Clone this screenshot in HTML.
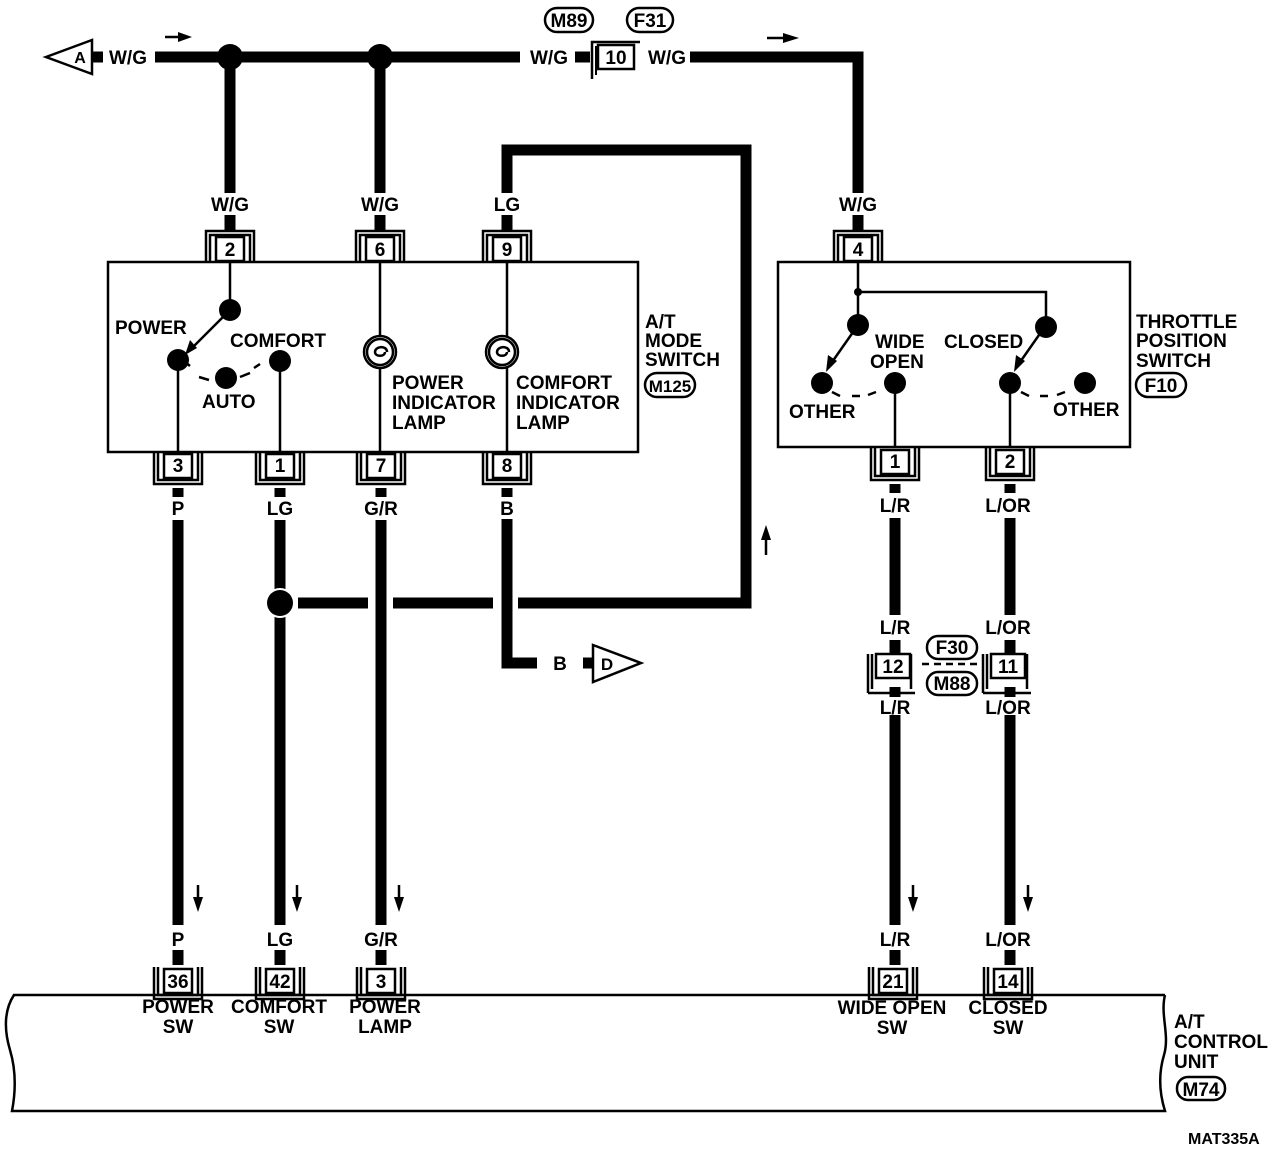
<!DOCTYPE html>
<html><head><meta charset="utf-8"><style>
html,body{margin:0;padding:0;background:#fff;}
svg{display:block;}
text{font-family:"Liberation Sans",sans-serif;font-weight:bold;font-size:19px;fill:#000;}
</style></head><body>
<svg width="1280" height="1150" viewBox="0 0 1280 1150" xmlns="http://www.w3.org/2000/svg">
<defs>
<g id="ct">
<path d="M-24,26 V-6 H24 V26 M-20,26 V-2 H20 V26" fill="none" stroke="#000" stroke-width="2.5"/>
<rect x="-14" y="0" width="28" height="24" fill="#fff" stroke="#000" stroke-width="2.5"/>
</g>
<g id="cb">
<path d="M-24,-26 V6 H24 V-26 M-20,-26 V2 H20 V-26" fill="none" stroke="#000" stroke-width="2.5"/>
<rect x="-14" y="-24" width="28" height="24" fill="#fff" stroke="#000" stroke-width="2.5"/>
</g>
</defs>

<g stroke="#000" stroke-width="11" fill="none">
<line x1="92" y1="57" x2="103" y2="57"/>
<line x1="155" y1="57" x2="520" y2="57"/>
<line x1="575" y1="57" x2="590" y2="57"/>
<polyline points="690,57 858,57 858,222"/>
<line x1="230" y1="57" x2="230" y2="222"/>
<line x1="380" y1="57" x2="380" y2="222"/>
<polyline points="507,222 507,150 746,150 746,603 518,603"/>
<line x1="298" y1="603" x2="368" y2="603"/>
<line x1="393" y1="603" x2="493" y2="603"/>
<polyline points="507,488 507,663 537,663"/>
<line x1="583" y1="663" x2="593" y2="663"/>
<line x1="178" y1="520" x2="178" y2="925"/>
<line x1="280" y1="520" x2="280" y2="925"/>
<line x1="381" y1="520" x2="381" y2="925"/>
<line x1="895" y1="518" x2="895" y2="615"/>
<line x1="895" y1="715" x2="895" y2="925"/>
<line x1="1010" y1="518" x2="1010" y2="615"/>
<line x1="1010" y1="715" x2="1010" y2="925"/>
<line x1="178" y1="950" x2="178" y2="965"/>
<line x1="280" y1="950" x2="280" y2="965"/>
<line x1="381" y1="950" x2="381" y2="965"/>
<line x1="895" y1="950" x2="895" y2="965"/>
<line x1="1010" y1="950" x2="1010" y2="965"/>
<line x1="895" y1="640" x2="895" y2="655"/>
<line x1="895" y1="687" x2="895" y2="697"/>
<line x1="1010" y1="640" x2="1010" y2="655"/>
<line x1="1010" y1="687" x2="1010" y2="697"/>
<line x1="178" y1="488" x2="178" y2="497"/>
<line x1="280" y1="488" x2="280" y2="497"/>
<line x1="381" y1="488" x2="381" y2="497"/>
<line x1="507" y1="488" x2="507" y2="497"/>
<line x1="895" y1="484" x2="895" y2="493"/>
<line x1="1010" y1="484" x2="1010" y2="493"/>
<line x1="230" y1="215" x2="230" y2="232"/>
<line x1="380" y1="215" x2="380" y2="232"/>
<line x1="507" y1="215" x2="507" y2="232"/>
<line x1="858" y1="215" x2="858" y2="232"/>
</g>
<g fill="#fff">
<rect x="160" y="193" width="440" height="22"/>
<rect x="830" y="193" width="60" height="22"/>
<rect x="150" y="497" width="380" height="22"/>
<rect x="860" y="493" width="180" height="24"/>
<rect x="860" y="615" width="180" height="24"/>
<rect x="860" y="697" width="180" height="17"/>
<rect x="150" y="926" width="260" height="24"/>
<rect x="860" y="926" width="180" height="24"/>
</g>
<text x="230" y="211" text-anchor="middle">W/G</text>
<text x="380" y="211" text-anchor="middle">W/G</text>
<text x="507" y="211" text-anchor="middle">LG</text>
<text x="858" y="211" text-anchor="middle">W/G</text>
<text x="178" y="515" text-anchor="middle">P</text>
<text x="280" y="515" text-anchor="middle">LG</text>
<text x="381" y="515" text-anchor="middle">G/R</text>
<text x="507" y="515" text-anchor="middle">B</text>
<text x="895" y="512" text-anchor="middle">L/R</text>
<text x="1008" y="512" text-anchor="middle">L/OR</text>
<text x="895" y="634" text-anchor="middle">L/R</text>
<text x="1008" y="634" text-anchor="middle">L/OR</text>
<text x="895" y="714" text-anchor="middle">L/R</text>
<text x="1008" y="714" text-anchor="middle">L/OR</text>
<text x="178" y="946" text-anchor="middle">P</text>
<text x="280" y="946" text-anchor="middle">LG</text>
<text x="381" y="946" text-anchor="middle">G/R</text>
<text x="895" y="946" text-anchor="middle">L/R</text>
<text x="1008" y="946" text-anchor="middle">L/OR</text>
<text x="128" y="64" text-anchor="middle">W/G</text>
<text x="549" y="64" text-anchor="middle">W/G</text>
<text x="667" y="64" text-anchor="middle">W/G</text>
<text x="560" y="670" text-anchor="middle">B</text>

<circle cx="230" cy="57" r="13" fill="#000"/>
<circle cx="380" cy="57" r="13" fill="#000"/>
<circle cx="280" cy="603" r="15" fill="#fff"/>
<circle cx="280" cy="603" r="13" fill="#000"/>

<polygon points="46,57 92,40 92,74" fill="#fff" stroke="#000" stroke-width="2.5"/>
<text x="80" y="63" text-anchor="middle" style="font-size:16px">A</text>
<polygon points="641,663 593,645 593,682" fill="#fff" stroke="#000" stroke-width="2.5"/>
<text x="607" y="670" text-anchor="middle" style="font-size:17px">D</text>

<path d="M592,79 V42 H640" fill="none" stroke="#000" stroke-width="2.5"/>
<path d="M596,75 V46" fill="none" stroke="#000" stroke-width="2"/>
<rect x="598" y="45" width="36" height="24" fill="#fff" stroke="#000" stroke-width="2.5"/>
<text x="616" y="64" text-anchor="middle">10</text>
<rect x="545" y="8" width="48" height="24" rx="12" fill="#fff" stroke="#000" stroke-width="2.5"/>
<text x="569" y="27" text-anchor="middle">M89</text>
<rect x="627" y="8" width="46" height="24" rx="12" fill="#fff" stroke="#000" stroke-width="2.5"/>
<text x="650" y="27" text-anchor="middle">F31</text>

<g fill="#000" stroke="#000" stroke-width="2.5">
<line x1="165" y1="37" x2="180" y2="37"/><polygon points="178,32 192,37 178,42" stroke="none"/>
<line x1="767" y1="38" x2="785" y2="38"/><polygon points="783,33 799,38 783,43" stroke="none"/>
<line x1="766" y1="555" x2="766" y2="538"/><polygon points="761,540 766,525 771,540" stroke="none"/>
<line x1="198" y1="885" x2="198" y2="900"/><polygon points="193,897 198,912 203,897" stroke="none"/>
<line x1="297" y1="885" x2="297" y2="900"/><polygon points="292,897 297,912 302,897" stroke="none"/>
<line x1="399" y1="885" x2="399" y2="900"/><polygon points="394,897 399,912 404,897" stroke="none"/>
<line x1="913" y1="885" x2="913" y2="900"/><polygon points="908,897 913,912 918,897" stroke="none"/>
<line x1="1028" y1="885" x2="1028" y2="900"/><polygon points="1023,897 1028,912 1033,897" stroke="none"/>
</g>

<rect x="108" y="262" width="530" height="190" fill="#fff" stroke="#000" stroke-width="2.5"/>
<use href="#ct" x="230" y="237"/><text x="230" y="256" text-anchor="middle">2</text>
<use href="#ct" x="380" y="237"/><text x="380" y="256" text-anchor="middle">6</text>
<use href="#ct" x="507" y="237"/><text x="507" y="256" text-anchor="middle">9</text>
<use href="#cb" x="178" y="478"/><text x="178" y="472" text-anchor="middle">3</text>
<use href="#cb" x="280" y="478"/><text x="280" y="472" text-anchor="middle">1</text>
<use href="#cb" x="381" y="478"/><text x="381" y="472" text-anchor="middle">7</text>
<use href="#cb" x="507" y="478"/><text x="507" y="472" text-anchor="middle">8</text>
<g stroke="#000" stroke-width="2.5" fill="none">
<line x1="230" y1="263" x2="230" y2="310"/>
<line x1="230" y1="310" x2="190" y2="350"/>
<line x1="178" y1="360" x2="178" y2="452"/>
<line x1="280" y1="364" x2="280" y2="452"/>
<line x1="380" y1="263" x2="380" y2="452"/>
<line x1="507" y1="263" x2="507" y2="452"/>
<path d="M185,362 l5,4 M199,377 l10,3 M240,377 l10,-4 M254,368 l6,-4"/>
<circle cx="380" cy="352" r="16" fill="#fff"/>
<circle cx="380" cy="352" r="13"/>
<path d="M387,352 c0,-7 -12,-6 -12,0 c0,5 10,5 10,0" />
<circle cx="502" cy="352" r="16" fill="#fff"/>
<circle cx="502" cy="352" r="13"/>
<path d="M509,352 c0,-7 -12,-6 -12,0 c0,5 10,5 10,0" />
</g>
<polygon points="185,355 190,340 197,348" fill="#000"/>
<circle cx="230" cy="310" r="11" fill="#000"/>
<circle cx="178" cy="360" r="11" fill="#000"/>
<circle cx="226" cy="378" r="11" fill="#000"/>
<circle cx="280" cy="361" r="11" fill="#000"/>
<text x="115" y="334">POWER</text>
<text x="230" y="347">COMFORT</text>
<text x="202" y="408">AUTO</text>
<text x="392" y="389">POWER</text>
<text x="392" y="409">INDICATOR</text>
<text x="392" y="429">LAMP</text>
<text x="516" y="389">COMFORT</text>
<text x="516" y="409">INDICATOR</text>
<text x="516" y="429">LAMP</text>
<text x="645" y="328">A/T</text>
<text x="645" y="347">MODE</text>
<text x="645" y="366">SWITCH</text>
<rect x="645" y="373" width="50" height="24" rx="12" fill="#fff" stroke="#000" stroke-width="2.5"/>
<text x="670" y="392" text-anchor="middle" style="font-size:17px">M125</text>

<rect x="778" y="262" width="352" height="185" fill="#fff" stroke="#000" stroke-width="2.5"/>
<use href="#ct" x="858" y="237"/><text x="858" y="256" text-anchor="middle">4</text>
<use href="#cb" x="895" y="474"/><text x="895" y="468" text-anchor="middle">1</text>
<use href="#cb" x="1010" y="474"/><text x="1010" y="468" text-anchor="middle">2</text>
<g stroke="#000" stroke-width="2.5" fill="none">
<polyline points="858,263 858,325"/>
<polyline points="858,292 1046,292 1046,325"/>
<line x1="858" y1="325" x2="830" y2="365"/>
<line x1="1046" y1="325" x2="1018" y2="365"/>
<line x1="895" y1="383" x2="895" y2="447"/>
<line x1="1010" y1="383" x2="1010" y2="447"/>
<path d="M832,392 l8,4 M852,396 l8,0 M868,395 l8,-3 M1021,392 l8,4 M1040,396 l8,0 M1057,395 l8,-3"/>
</g>
<circle cx="858" cy="292" r="4" fill="#000"/>
<polygon points="826,372 828,355 837,361" fill="#000"/>
<polygon points="1014,372 1016,355 1025,361" fill="#000"/>
<circle cx="858" cy="325" r="11" fill="#000"/>
<circle cx="1046" cy="327" r="11" fill="#000"/>
<circle cx="822" cy="383" r="11" fill="#000"/>
<circle cx="895" cy="383" r="11" fill="#000"/>
<circle cx="1010" cy="383" r="11" fill="#000"/>
<circle cx="1085" cy="383" r="11" fill="#000"/>
<text x="875" y="348">WIDE</text>
<text x="870" y="368">OPEN</text>
<text x="944" y="348">CLOSED</text>
<text x="789" y="418">OTHER</text>
<text x="1053" y="416">OTHER</text>
<text x="1136" y="328">THROTTLE</text>
<text x="1136" y="347">POSITION</text>
<text x="1136" y="367">SWITCH</text>
<rect x="1136" y="373" width="50" height="24" rx="12" fill="#fff" stroke="#000" stroke-width="2.5"/>
<text x="1161" y="392" text-anchor="middle">F10</text>

<path d="M872,689 V654 M868,693 H915 M911,689 V654 M868,693 V654" fill="none" stroke="#000" stroke-width="2.5"/>
<rect x="876" y="654" width="34" height="24" fill="#fff" stroke="#000" stroke-width="2.5"/>
<text x="893" y="673" text-anchor="middle">12</text>
<path d="M987,689 V654 M983,693 H1031 M1027,689 V654 M983,693 V654" fill="none" stroke="#000" stroke-width="2.5"/>
<rect x="991" y="654" width="34" height="24" fill="#fff" stroke="#000" stroke-width="2.5"/>
<text x="1008" y="673" text-anchor="middle">11</text>
<line x1="922" y1="664" x2="980" y2="664" stroke="#000" stroke-width="2.5" stroke-dasharray="7,5"/>
<rect x="927" y="636" width="50" height="23" rx="11" fill="#fff" stroke="#000" stroke-width="2.5"/>
<text x="952" y="654" text-anchor="middle">F30</text>
<rect x="927" y="672" width="50" height="23" rx="11" fill="#fff" stroke="#000" stroke-width="2.5"/>
<text x="952" y="690" text-anchor="middle">M88</text>

<path d="M1165,995 H14 C4,1010 4,1030 10,1050 C16,1070 16,1090 12,1111 H1165 C1160,1095 1158,1075 1164,1055 C1170,1035 1160,1015 1165,995" fill="#fff" stroke="#000" stroke-width="2.5"/>
<use href="#cb" x="178" y="993"/><text x="178" y="988" text-anchor="middle">36</text>
<use href="#cb" x="280" y="993"/><text x="280" y="988" text-anchor="middle">42</text>
<use href="#cb" x="381" y="993"/><text x="381" y="988" text-anchor="middle">3</text>
<use href="#cb" x="893" y="993"/><text x="893" y="988" text-anchor="middle">21</text>
<use href="#cb" x="1008" y="993"/><text x="1008" y="988" text-anchor="middle">14</text>
<g text-anchor="middle">
<text x="178" y="1013">POWER</text><text x="178" y="1033">SW</text>
<text x="279" y="1013">COMFORT</text><text x="279" y="1033">SW</text>
<text x="385" y="1013">POWER</text><text x="385" y="1033">LAMP</text>
<text x="892" y="1014">WIDE OPEN</text><text x="892" y="1034">SW</text>
<text x="1008" y="1014">CLOSED</text><text x="1008" y="1034">SW</text>
</g>
<text x="1174" y="1028">A/T</text>
<text x="1174" y="1048">CONTROL</text>
<text x="1174" y="1068">UNIT</text>
<rect x="1177" y="1077" width="48" height="23" rx="11" fill="#fff" stroke="#000" stroke-width="2.5"/>
<text x="1201" y="1096" text-anchor="middle">M74</text>
<text x="1188" y="1144" style="font-size:16px">MAT335A</text>
</svg>
</body></html>
